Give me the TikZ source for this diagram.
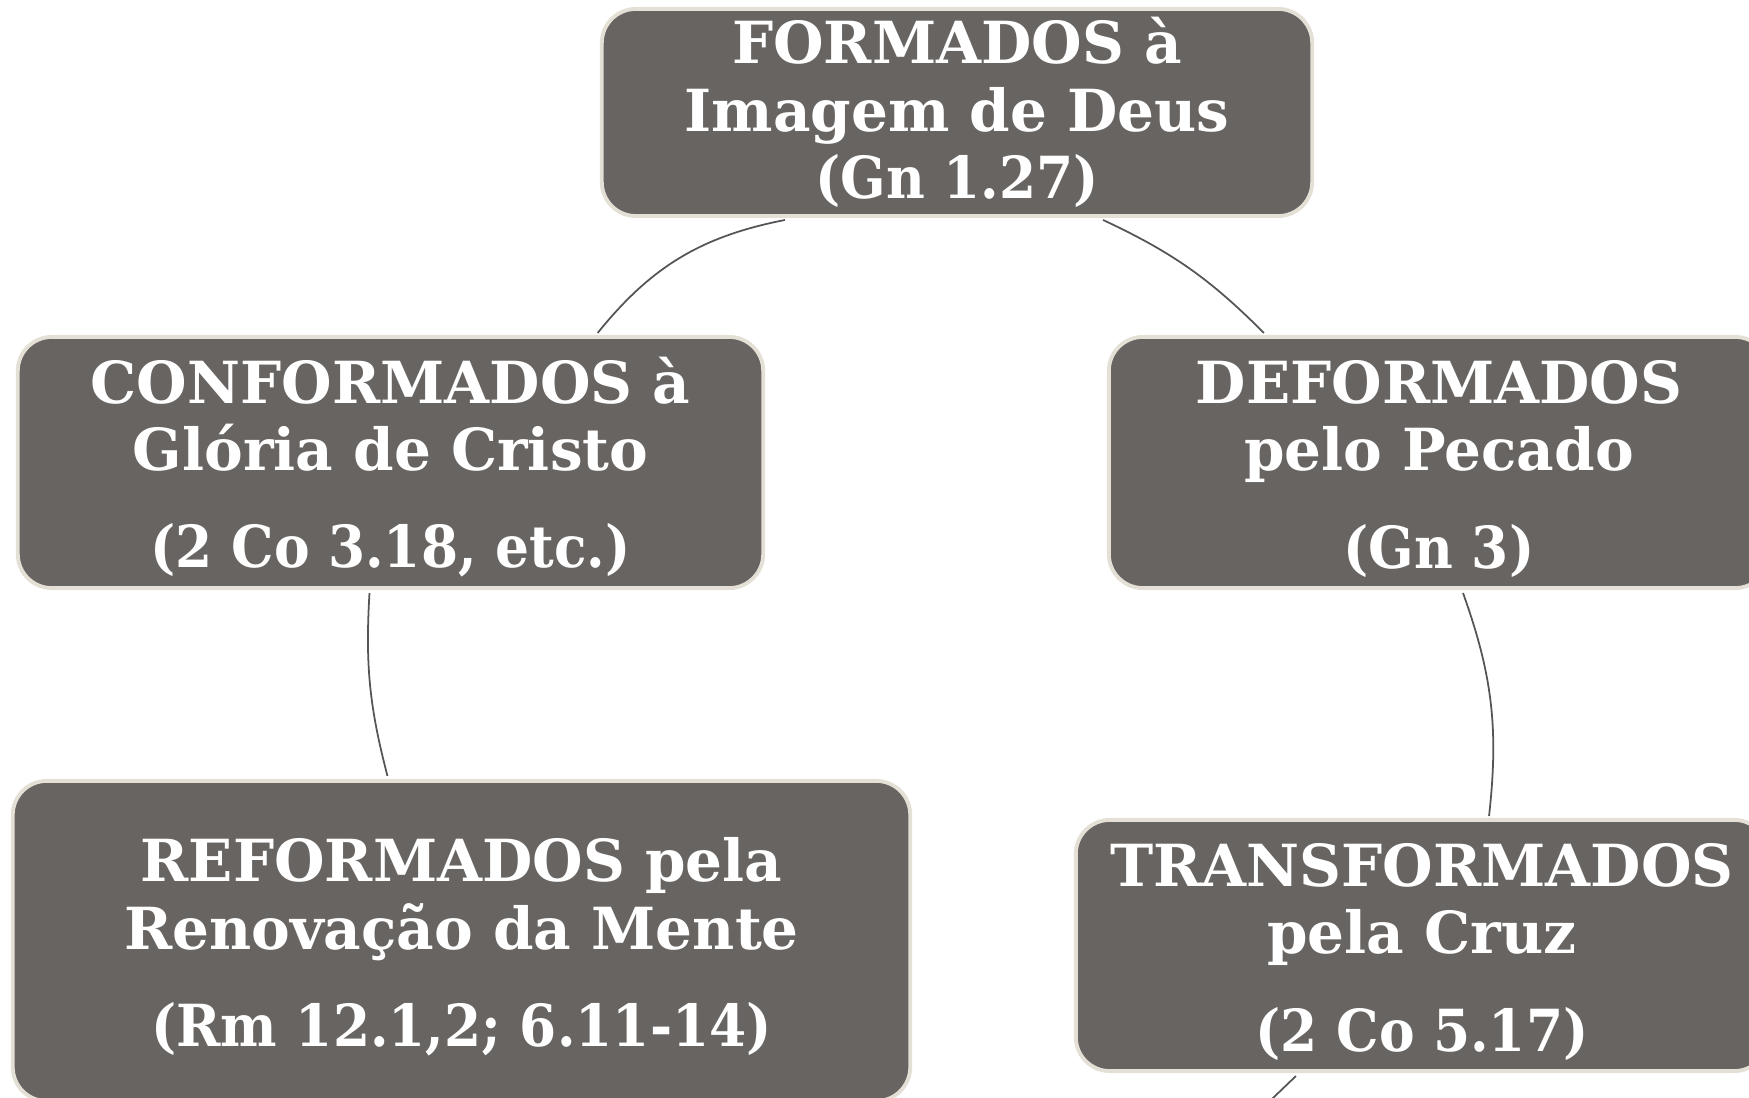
\documentclass[tikz,border=0pt]{standalone}
\usepackage{fontspec}
\setmainfont{DejaVu Serif}
\definecolor{boxfill}{RGB}{104,100,98}
\definecolor{boxedge}{RGB}{228,224,214}
\definecolor{conncol}{RGB}{85,85,85}
\newcommand{\refline}[1]{\scalebox{0.92}[1]{#1}}
\newcommand{\firststrut}{\rule{0pt}{15.8pt}}
\tikzset{
  cyclebox/.style={draw=boxedge, line width=1.1pt, fill=boxfill, rounded corners=0.34cm,
    text=white, align=center, inner sep=0pt,
    font=\bfseries\fontsize{16.5}{19.2}\selectfont},
  conn/.style={draw=conncol, line width=0.5pt}
}
\begin{document}
\begin{tikzpicture}[x=0.01cm,y=-0.01cm]
\useasboundingbox (0,0) rectangle (1749,1098);
\clip (0,0) rectangle (1749,1098);
\node[cyclebox, minimum width=7.10cm, minimum height=2.07cm] (top) at (957,112.5)
  {FORMADOS à\\Imagem de Deus\\\refline{(Gn 1.27)}};
\node[cyclebox, minimum width=7.45cm, minimum height=2.51cm] (conf) at (390.5,462.5)
  {\firststrut CONFORMADOS à\\Glória de Cristo\\[8.5pt]\refline{(2 Co 3.18, etc.)}};
\node[cyclebox, minimum width=6.60cm, minimum height=2.51cm] (def) at (1439,462.5)
  {\firststrut DEFORMADOS\\pelo Pecado\\[8.5pt]\refline{(Gn 3)}};
\node[cyclebox, minimum width=8.97cm, minimum height=3.20cm] (ref) at (461.5,941)
  {\firststrut REFORMADOS pela\\Renovação da Mente\\[8.5pt]\refline{(Rm 12.1,2; 6.11-14)}};
\node[cyclebox, minimum width=6.92cm, minimum height=2.51cm] (trans) at (1422,945.5)
  {\firststrut TRANSFORMADOS\\pela Cruz\\[8.5pt]\refline{(2 Co 5.17)}};
\coordinate (tail) at (1250,1120);
\draw[conn] ([xshift=-1.72cm,yshift=-0.02cm]top.south) to[bend right=20] ([xshift=2.07cm,yshift=0.02cm]conf.north);
\draw[conn] ([xshift=1.46cm,yshift=-0.02cm]top.south) to[bend left=10] ([xshift=-1.75cm,yshift=0.02cm]def.north);
\draw[conn] ([xshift=0.24cm,yshift=-0.03cm]def.south) to[bend left=13] ([xshift=0.67cm,yshift=0.02cm]trans.north);
\draw[conn] ([xshift=-0.21cm,yshift=-0.03cm]conf.south) to[bend right=9] ([xshift=-0.74cm,yshift=0.03cm]ref.north);
\draw[conn] ([xshift=-1.26cm,yshift=-0.03cm]trans.south) -- (tail);
\end{tikzpicture}
\end{document}
